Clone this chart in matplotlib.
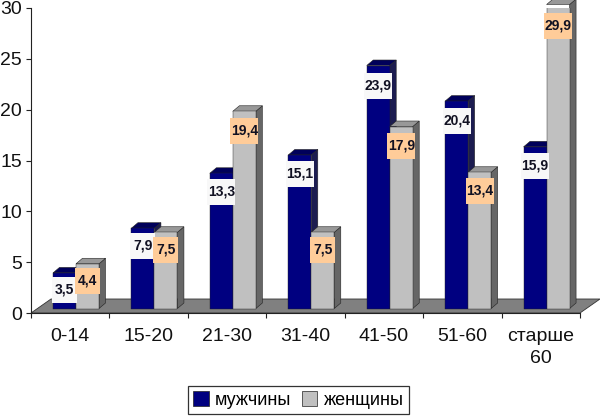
import matplotlib
matplotlib.use("Agg")
import matplotlib.pyplot as plt
from matplotlib.patches import Rectangle, Polygon

plt.rcParams['font.family'] = ['Liberation Sans', 'DejaVu Sans']

categories = ["0-14", "15-20", "21-30", "31-40", "41-50", "51-60", "старше\n60"]
men = [3.5, 7.9, 13.3, 15.1, 23.9, 20.4, 15.9]
women = [4.4, 7.5, 19.4, 7.5, 17.9, 13.4, 29.9]
men_labels = ["3,5", "7,9", "13,3", "15,1", "23,9", "20,4", "15,9"]
women_labels = ["4,4", "7,5", "19,4", "7,5", "17,9", "13,4", "29,9"]
yticks = [0, 5, 10, 15, 20, 25, 30]

fig = plt.figure(figsize=(6, 4.16), dpi=100)
ax = fig.add_axes([31 / 600, 103 / 416, 549 / 600, 305 / 416])
ax.set_xlim(0, 7)
ax.set_ylim(0, 30)

# pixels -> data units
px = 7 / 549
py = 30 / 305
dx = 6.5 * px
dy = 5.5 * py
base = 4.5 * py
bw = 23 * px
x0 = 22 * px + bw

# floor
ax.add_patch(Polygon([(0, 0), (7, 0), (7 + 20 * px, 14 * py), (20 * px, 14 * py)],
                     closed=True, fc="#808080", ec="#333333", lw=0.6, clip_on=False, zorder=1))


def bar3d(x, v, front, side, top, z):
    left = x - bw / 2
    right = x + bw / 2
    h = base + v
    ax.bar(x, v, bw, bottom=base, color=front, edgecolor="#222222", linewidth=0.3, zorder=z + 1)
    ax.add_patch(Polygon([(right, base), (right + dx, base + dy), (right + dx, h + dy), (right, h)],
                         closed=True, fc=side, ec="#222222", lw=0.4, clip_on=False, zorder=z))
    ax.add_patch(Polygon([(left, h), (left + dx, h + dy), (right + dx, h + dy), (right, h)],
                         closed=True, fc=top, ec="#222222", lw=0.4, clip_on=False, zorder=z))


def value_box(x, v, text, color):
    w = (25 if len(text) == 3 else 28) * px
    h = 26 * py
    yc = base + v - (16.5 + v * 0.15) * py
    ax.add_patch(Rectangle((x - w / 2, yc - h / 2), w, h, fc=color, ec="none", zorder=40))
    ax.text(x, yc, text, ha="center", va="center", fontsize=10, fontweight="bold",
            color="#111122", zorder=41)


for i in range(len(categories)):
    xm = x0 + i - bw / 2
    xw = xm + bw
    z = 3 + i * 4
    bar3d(xm, men[i], "#000080", "#1c1c50", "#00005a", z)
    bar3d(xw, women[i], "#C0C0C0", "#666666", "#989898", z + 2)
    value_box(xm, men[i], men_labels[i], "#F8F8F8")
    value_box(xw, women[i], women_labels[i], "#FFCC99")

for s in ["top", "right"]:
    ax.spines[s].set_visible(False)
for s in ["left", "bottom"]:
    ax.spines[s].set_color("#222222")
    ax.spines[s].set_linewidth(0.8)
    ax.spines[s].set_zorder(2)

ax.set_yticks(yticks)
ax.set_yticklabels([str(t) for t in yticks], fontsize=14, color="#111111")
ax.set_xticks(range(8))
ax.set_xticklabels([""] * 8)
ax.tick_params(axis="both", length=3.5, width=0.8, color="#222222", pad=3)
for i, c in enumerate(categories):
    ax.annotate(c, (i + 0.5, 0), xytext=(0, -11), textcoords="offset points", ha="center", va="top",
                fontsize=14, color="#111111", linespacing=1.4, annotation_clip=False)

legend_handles = [Rectangle((0, 0), 1, 1, fc="#000080", ec="#222222", lw=0.5),
                  Rectangle((0, 0), 1, 1, fc="#C0C0C0", ec="#222222", lw=0.5)]
leg = fig.legend(legend_handles, ["мужчины", "женщины"], ncol=2, fontsize=13,
                 loc="center", bbox_to_anchor=(298.5 / 600, 16 / 416), frameon=True, fancybox=False,
                 edgecolor="#333333", handlelength=0.85, handleheight=0.85, handletextpad=0.35,
                 columnspacing=0.6, borderpad=0.3, borderaxespad=0, framealpha=1)
leg.get_frame().set_linewidth(0.9)

fig.savefig("out.png", dpi=100)
